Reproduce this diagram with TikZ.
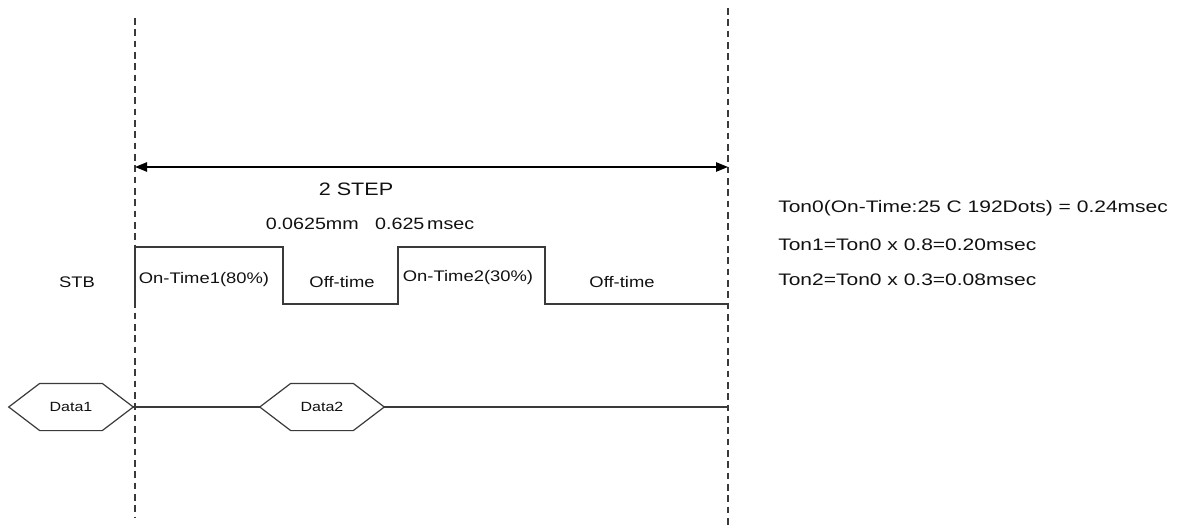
\documentclass[tikz,border=0pt]{standalone}
\usepackage{fontspec}
\newfontfamily\gulA{Liberation Sans}[FakeStretch=1.2]
\newfontfamily\gulB{Liberation Sans}[FakeStretch=1.26]
\usetikzlibrary{arrows.meta,calc}
\definecolor{ln}{HTML}{3A3A3A}
\definecolor{txt}{HTML}{111111}
\tikzset{
  lbl/.style={inner sep=0pt, text=txt, anchor=center},
  rlbl/.style={inner sep=0pt, text=txt, anchor=west, font=\gulB\fontsize{12.5}{14}\selectfont},
  guide/.style={draw=ln, line width=0.8pt, dash pattern=on 5pt off 3.5pt},
  wave/.style={draw=ln, line width=1.1pt},
  wire/.style={draw=ln, line width=0.9pt},
  dim/.style={draw=black, line width=1.1pt, {Triangle[length=9pt,width=7pt]}-{Triangle[length=9pt,width=7pt]}},
  hexbox/.style={inner sep=0pt, minimum width=93pt, minimum height=35pt, text=txt, font=\gulA\fontsize{10}{11}\selectfont},
}
\newcommand{\hexo}[1]{\draw[wire] (#1.west) -- ($(#1.north west)+(31,0)$) -- ($(#1.north east)+(-31,0)$) -- (#1.east) -- ($(#1.south east)+(-31,0)$) -- ($(#1.south west)+(31,0)$) -- cycle;}
\begin{document}
\begin{tikzpicture}[x=0.75pt,y=-0.75pt, font=\gulA\fontsize{11.5}{13}\selectfont]
\useasboundingbox (0,0) rectangle (1180,528);
% guide lines
\coordinate (g1t) at (135,18);
\coordinate (g1b) at (135,518);
\coordinate (g2t) at (728,8);
\coordinate (g2b) at (728,528);
\draw[guide] (g1t) -- (g1b);
\draw[guide] (g2t) -- (g2b);
% dimension arrow
\coordinate (a1) at (135,167);
\coordinate (a2) at (728,167);
\draw[dim] (a1) -- (a2);
\node[lbl, font=\gulA\fontsize{13.5}{15}\selectfont] (step) at (356,189) {2 STEP};
\node[lbl, font=\gulA\fontsize{12.3}{14}\selectfont] (dims) at (370,224) {0.0625mm\ \ \ 0.625\,msec};
% waveform
\draw[wave] (135,304) -- (135,247) -- (283,247) -- (283,304) -- (398,304) -- (398,247) -- (545,247) -- (545,304) -- (728,304);
\node[lbl] (stb) at (77,282) {STB};
\node[lbl] (on1) at (204,280) {On-Time1(80\%)};
\node[lbl] (off1) at (342,282) {Off-time};
\node[lbl] (on2) at (468,278) {On-Time2(30\%)};
\node[lbl] (off2) at (622,282) {Off-time};
% data
\node[hexbox] (d1) at (71,407) {Data1};
\node[hexbox] (d2) at (322,407) {Data2};
\hexo{d1}
\hexo{d2}
\coordinate (wend) at (728,407);
\draw[wire] (d1.east) -- (d2.west);
\draw[wire] (d2.east) -- (wend);
% notes
\node[rlbl] (t0) at (778,208) {Ton0(On-Time:25 C 192Dots) = 0.24msec};
\node[rlbl] (t1) at (778,245) {Ton1=Ton0 x 0.8=0.20msec};
\node[rlbl] (t2) at (778,280) {Ton2=Ton0 x 0.3=0.08msec};
\end{tikzpicture}
\end{document}
